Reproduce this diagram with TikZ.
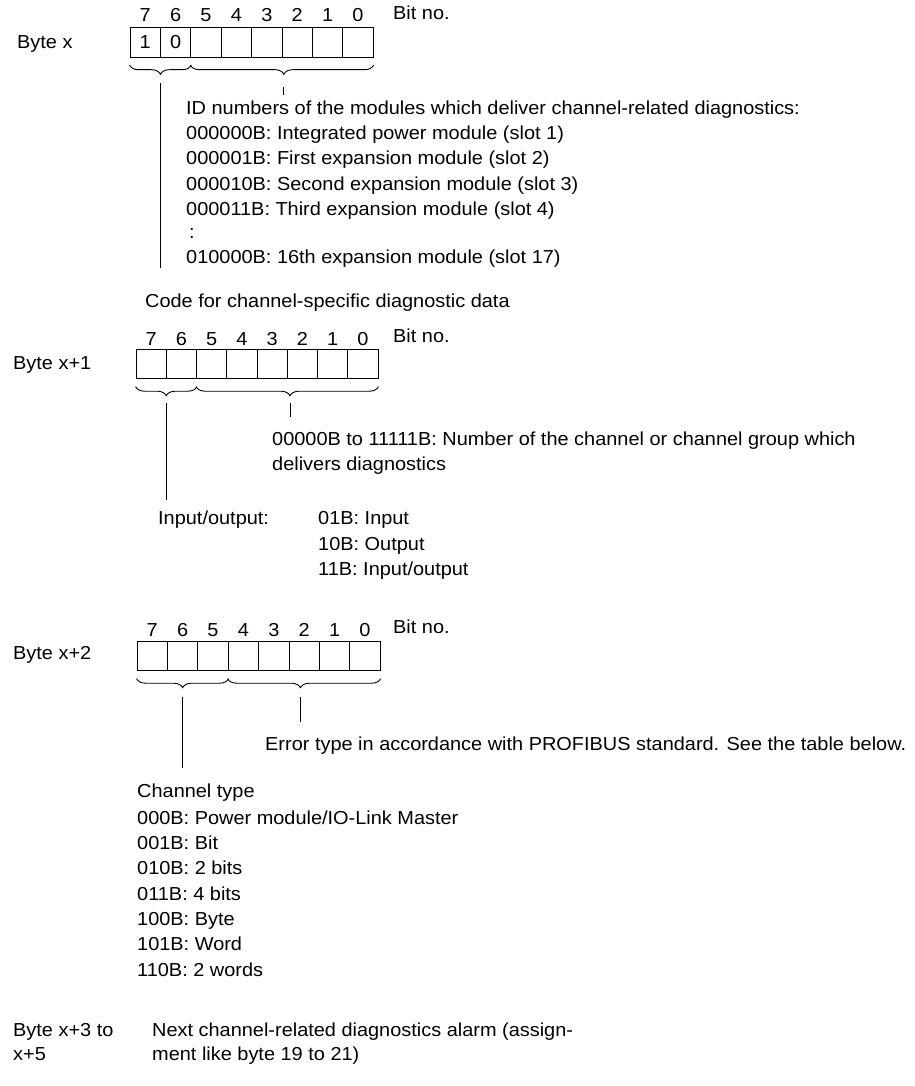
\documentclass[tikz,border=0pt]{standalone}
\usepackage{fontspec}
\setmainfont{Liberation Sans}[FakeStretch=1.06]
\usetikzlibrary{decorations.pathreplacing}
\begin{document}
\begin{tikzpicture}[x=1pt,y=-1pt,
  txt/.style={anchor=base west,inner sep=0pt,font=\fontsize{18.8}{25}\selectfont},
  cell/.style={draw,line width=0.9pt,minimum width=30.4pt,minimum height=29.5pt,inner sep=0pt,font=\fontsize{18.8}{25}\selectfont},
  bitnum/.style={anchor=base,inner sep=0pt,font=\fontsize{18.8}{25}\selectfont},
  brc/.style={decorate,decoration={brace,mirror,amplitude=9pt},line width=0.9pt},
  ln/.style={line width=0.9pt}]
\useasboundingbox (0,0) rectangle (914,1086);

% ---------- Byte x ----------
\node[txt] (bx) at (17,49) {Byte x};
\foreach \b [count=\i from 0] in {7,6,5,4,3,2,1,0} {
  \node[cell] (a\b) at (130+15.2+30.4*\i,42.5) {};
  \node[bitnum] (na\b) at (130+15.2+30.4*\i,22) {\b};
}
\node[txt] (bna) at (393,20) {Bit no.};
\node[font=\fontsize{18.8}{25}\selectfont,inner sep=0pt] (va7) at (a7) {1};
\node[font=\fontsize{18.8}{25}\selectfont,inner sep=0pt] (va6) at (a6) {0};
\draw[brc] ([yshift=-7.5pt]a7.south west) -- ([yshift=-7.5pt]a6.south east);
\draw[brc,decoration={aspect=0.51}] ([yshift=-7.5pt]a5.south west) -- ([yshift=-7.5pt]a0.south east);
\coordinate (pa1) at (160.4,83);
\coordinate (pa1e) at (160.4,268);
\draw[ln] (pa1) -- (pa1e);
\coordinate (pa2) at (283.8,87);
\coordinate (pa2e) at (283.8,95);
\draw[ln] (pa2) -- (pa2e);
\node[txt] (ta0) at (186,115) {ID numbers of the modules which deliver channel-related diagnostics:};
\node[txt] (ta1) at (186,140) {000000B: Integrated power module (slot 1)};
\node[txt] (ta2) at (186,165) {000001B: First expansion module (slot 2)};
\node[txt] (ta3) at (186,190) {000010B: Second expansion module (slot 3)};
\node[txt] (ta4) at (186,215) {000011B: Third expansion module (slot 4)};
\node[txt] (ta5) at (189,238) {:};
\node[txt] (ta6) at (186,263) {010000B: 16th expansion module (slot 17)};

% ---------- Byte x+1 ----------
\node[txt] (cd) at (145,307) {Code for channel-specific diagnostic data};
\node[txt] (bx1) at (13,369) {Byte x+1};
\foreach \b [count=\i from 0] in {7,6,5,4,3,2,1,0} {
  \node[cell,minimum width=30.25pt] (b\b) at (136+15.125+30.25*\i,364) {};
  \node[bitnum] (nb\b) at (136+15.125+30.25*\i,345) {\b};
}
\node[txt] (bnb) at (393,342) {Bit no.};
\draw[brc] ([yshift=-7.5pt]b7.south west) -- ([yshift=-7.5pt]b6.south east);
\draw[brc,decoration={aspect=0.515}] ([yshift=-7.5pt]b5.south west) -- ([yshift=-7.5pt]b0.south east);
\coordinate (pb1) at (166.25,403);
\coordinate (pb1e) at (166.25,500);
\draw[ln] (pb1) -- (pb1e);
\coordinate (pb2) at (290,403);
\coordinate (pb2e) at (290,417);
\draw[ln] (pb2) -- (pb2e);
\node[txt] (tb0) at (272,445) {00000B to 11111B: Number of the channel or channel group which};
\node[txt] (tb1) at (272,470) {delivers diagnostics};
\node[txt] (io) at (158,524) {Input/output:};
\node[txt] (tb2) at (318,524) {01B: Input};
\node[txt] (tb3) at (318,550) {10B: Output};
\node[txt] (tb4) at (318,575) {11B: Input/output};

% ---------- Byte x+2 ----------
\node[txt] (bx2) at (13,659) {Byte x+2};
\foreach \b [count=\i from 0] in {7,6,5,4,3,2,1,0} {
  \node[cell] (c\b) at (137+15.2+30.4*\i,656) {};
  \node[bitnum] (nc\b) at (137+15.2+30.4*\i,636) {\b};
}
\node[txt] (bnc) at (393,633) {Bit no.};
\draw[brc] ([yshift=-7.5pt]c7.south west) -- ([yshift=-7.5pt]c5.south east);
\draw[brc,decoration={aspect=0.475}] ([yshift=-7.5pt]c4.south west) -- ([yshift=-7.5pt]c0.south east);
\coordinate (pc1) at (182.6,697);
\coordinate (pc1e) at (182.6,768);
\draw[ln] (pc1) -- (pc1e);
\coordinate (pc2) at (300.4,697);
\coordinate (pc2e) at (300.4,722);
\draw[ln] (pc2) -- (pc2e);
\node[txt] (tc0) at (265,750) {Error type in accordance with PROFIBUS standard. See the table below.};
\node[txt] (tc1) at (137,797) {Channel type};
\node[txt] (tc2) at (137,824) {000B: Power module/IO-Link Master};
\node[txt] (tc3) at (137,849) {001B: Bit};
\node[txt] (tc4) at (137,874) {010B: 2 bits};
\node[txt] (tc5) at (137,900) {011B: 4 bits};
\node[txt] (tc6) at (137,925) {100B: Byte};
\node[txt] (tc7) at (137,950) {101B: Word};
\node[txt] (tc8) at (137,976) {110B: 2 words};

% ---------- Byte x+3 to x+5 ----------
\node[txt] (bx3) at (13,1036) {Byte x+3 to};
\node[txt] (bx3b) at (13,1060) {x+5};
\node[txt] (td0) at (152,1036) {Next channel-related diagnostics alarm (assign-};
\node[txt] (td1) at (152,1060) {ment like byte 19 to 21)};
\end{tikzpicture}
\end{document}
